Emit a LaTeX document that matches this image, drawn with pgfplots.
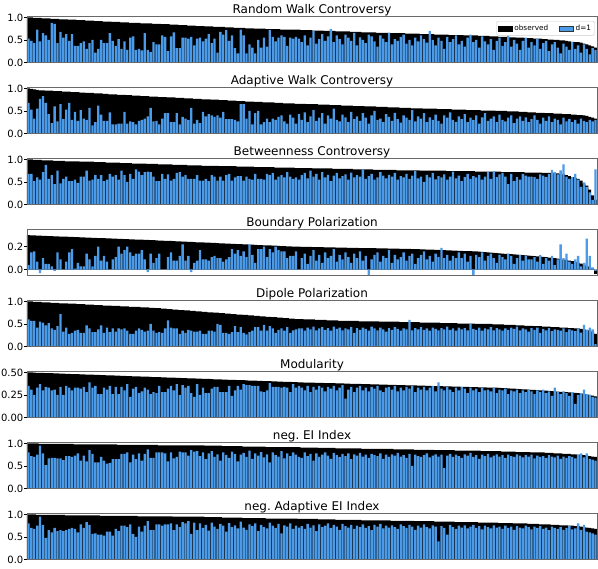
\documentclass[border=0pt]{standalone}
\usepackage{fontspec}
\setmainfont{DejaVu Sans}
\usepackage{pgfplots}
\usepackage{pgfplotstable}
\pgfplotsset{compat=1.18}
\definecolor{dblue}{RGB}{75,155,232}
\definecolor{framegray}{RGB}{105,105,105}

% observed (sorted) and d=1 values, one table per series
\pgfplotstableread[row sep=\\]{y\\
1.00\\ 1.00\\ 0.99\\ 0.99\\ 0.99\\ 0.98\\ 0.98\\ 0.98\\ 0.97\\ 0.97\\
0.97\\ 0.96\\ 0.96\\ 0.96\\ 0.95\\ 0.95\\ 0.95\\ 0.94\\ 0.94\\ 0.94\\
0.93\\ 0.93\\ 0.93\\ 0.92\\ 0.92\\ 0.92\\ 0.91\\ 0.91\\ 0.91\\ 0.90\\
0.90\\ 0.90\\ 0.89\\ 0.89\\ 0.89\\ 0.88\\ 0.88\\ 0.88\\ 0.88\\ 0.87\\
0.87\\ 0.87\\ 0.87\\ 0.86\\ 0.86\\ 0.86\\ 0.85\\ 0.85\\ 0.85\\ 0.84\\
0.84\\ 0.84\\ 0.83\\ 0.83\\ 0.83\\ 0.82\\ 0.82\\ 0.82\\ 0.81\\ 0.81\\
0.81\\ 0.80\\ 0.80\\ 0.80\\ 0.79\\ 0.79\\ 0.79\\ 0.79\\ 0.78\\ 0.78\\
0.78\\ 0.77\\ 0.77\\ 0.77\\ 0.77\\ 0.76\\ 0.76\\ 0.76\\ 0.75\\ 0.75\\
0.75\\ 0.75\\ 0.74\\ 0.74\\ 0.74\\ 0.74\\ 0.74\\ 0.73\\ 0.73\\ 0.73\\
0.73\\ 0.73\\ 0.73\\ 0.73\\ 0.72\\ 0.72\\ 0.72\\ 0.72\\ 0.71\\ 0.71\\
0.71\\ 0.71\\ 0.70\\ 0.70\\ 0.70\\ 0.70\\ 0.69\\ 0.69\\ 0.69\\ 0.69\\
0.69\\ 0.68\\ 0.68\\ 0.68\\ 0.68\\ 0.67\\ 0.67\\ 0.67\\ 0.67\\ 0.67\\
0.66\\ 0.66\\ 0.66\\ 0.66\\ 0.66\\ 0.65\\ 0.65\\ 0.65\\ 0.65\\ 0.65\\
0.64\\ 0.64\\ 0.64\\ 0.64\\ 0.64\\ 0.63\\ 0.63\\ 0.63\\ 0.63\\ 0.63\\
0.62\\ 0.62\\ 0.62\\ 0.62\\ 0.62\\ 0.61\\ 0.61\\ 0.61\\ 0.61\\ 0.61\\
0.60\\ 0.60\\ 0.60\\ 0.60\\ 0.60\\ 0.59\\ 0.59\\ 0.59\\ 0.59\\ 0.58\\
0.58\\ 0.58\\ 0.57\\ 0.57\\ 0.57\\ 0.56\\ 0.56\\ 0.56\\ 0.55\\ 0.55\\
0.55\\ 0.54\\ 0.54\\ 0.54\\ 0.53\\ 0.53\\ 0.53\\ 0.52\\ 0.52\\ 0.51\\
0.51\\ 0.50\\ 0.50\\ 0.49\\ 0.49\\ 0.48\\ 0.47\\ 0.46\\ 0.45\\ 0.45\\
0.44\\ 0.42\\ 0.40\\ 0.38\\ 0.36\\ 0.33\\
}\oA
\pgfplotstableread[row sep=\\]{y\\
0.53\\ 0.48\\ 0.43\\ 0.73\\ 0.47\\ 0.65\\ 0.60\\ 0.50\\ 0.88\\ 0.86\\
0.43\\ 0.68\\ 0.55\\ 0.63\\ 0.48\\ 0.63\\ 0.37\\ 0.37\\ 0.43\\ 0.47\\
0.30\\ 0.43\\ 0.50\\ 0.22\\ 0.30\\ 0.50\\ 0.43\\ 0.43\\ 0.65\\ 0.48\\
0.37\\ 0.52\\ 0.30\\ 0.47\\ 0.28\\ 0.55\\ 0.58\\ 0.28\\ 0.30\\ 0.27\\
0.65\\ 0.28\\ 0.23\\ 0.45\\ 0.40\\ 0.40\\ 0.60\\ 0.57\\ 0.25\\ 0.58\\
0.67\\ 0.32\\ 0.32\\ 0.55\\ 0.55\\ 0.53\\ 0.57\\ 0.38\\ 0.53\\ 0.55\\
0.47\\ 0.53\\ 0.63\\ 0.43\\ 0.53\\ 0.22\\ 0.68\\ 0.62\\ 0.72\\ 0.48\\
0.60\\ 0.32\\ 0.20\\ 0.73\\ 0.60\\ 0.20\\ 0.40\\ 0.33\\ 0.20\\ 0.50\\
0.33\\ 0.55\\ 0.35\\ 0.72\\ 0.57\\ 0.47\\ 0.55\\ 0.60\\ 0.57\\ 0.37\\
0.55\\ 0.53\\ 0.57\\ 0.53\\
0.45\\ 0.60\\ 0.38\\ 0.55\\ 0.70\\ 0.42\\ 0.52\\ 0.63\\ 0.48\\ 0.58\\
0.74\\ 0.45\\ 0.60\\ 0.52\\ 0.40\\ 0.62\\ 0.55\\ 0.48\\ 0.66\\ 0.38\\
0.56\\ 0.50\\ 0.43\\ 0.62\\ 0.58\\ 0.47\\ 0.35\\ 0.60\\ 0.53\\ 0.45\\
0.66\\ 0.40\\ 0.52\\ 0.48\\ 0.57\\ 0.62\\ 0.42\\ 0.50\\ 0.38\\ 0.55\\
0.47\\ 0.60\\ 0.52\\ 0.44\\ 0.70\\ 0.50\\ 0.38\\ 0.55\\ 0.48\\ 0.30\\
0.57\\ 0.45\\ 0.52\\ 0.60\\ 0.40\\ 0.48\\ 0.35\\ 0.55\\ 0.62\\ 0.45\\
0.50\\ 0.33\\ 0.58\\ 0.47\\ 0.40\\ 0.52\\ 0.28\\ 0.48\\ 0.55\\ 0.37\\
0.45\\ 0.60\\ 0.35\\ 0.50\\ 0.42\\ 0.28\\ 0.48\\ 0.55\\ 0.33\\ 0.45\\
0.38\\ 0.52\\ 0.30\\ 0.43\\ 0.48\\ 0.25\\ 0.40\\ 0.45\\ 0.33\\ 0.20\\
0.42\\ 0.35\\ 0.28\\ 0.45\\ 0.30\\ 0.38\\ 0.22\\ 0.40\\ 0.30\\ 0.18\\
0.32\\ 0.28\\
}\dA

\pgfplotstableread[row sep=\\]{y\\
1.00\\ 0.99\\ 0.98\\ 0.97\\ 0.96\\ 0.96\\ 0.95\\ 0.95\\ 0.95\\ 0.94\\
0.94\\ 0.94\\ 0.93\\ 0.93\\ 0.93\\ 0.92\\ 0.92\\ 0.92\\ 0.91\\ 0.91\\
0.90\\ 0.90\\ 0.90\\ 0.89\\ 0.89\\ 0.89\\ 0.88\\ 0.88\\ 0.87\\ 0.87\\
0.87\\ 0.86\\ 0.86\\ 0.86\\ 0.85\\ 0.85\\ 0.84\\ 0.84\\ 0.84\\ 0.83\\
0.83\\ 0.83\\ 0.82\\ 0.82\\ 0.82\\ 0.81\\ 0.81\\ 0.81\\ 0.80\\ 0.80\\
0.80\\ 0.79\\ 0.79\\ 0.79\\ 0.78\\ 0.78\\ 0.78\\ 0.77\\ 0.77\\ 0.77\\
0.76\\ 0.76\\ 0.76\\ 0.75\\ 0.75\\ 0.75\\ 0.74\\ 0.74\\ 0.74\\ 0.73\\
0.73\\ 0.73\\ 0.72\\ 0.72\\ 0.72\\ 0.71\\ 0.71\\ 0.71\\ 0.70\\ 0.70\\
0.70\\ 0.69\\ 0.69\\ 0.69\\ 0.69\\ 0.68\\ 0.68\\ 0.68\\ 0.67\\ 0.67\\
0.67\\ 0.67\\ 0.66\\ 0.66\\ 0.66\\ 0.66\\ 0.65\\ 0.65\\ 0.65\\ 0.65\\
0.64\\ 0.64\\ 0.64\\ 0.64\\ 0.63\\ 0.63\\ 0.63\\ 0.63\\ 0.62\\ 0.62\\
0.62\\ 0.62\\ 0.61\\ 0.61\\ 0.61\\ 0.61\\ 0.60\\ 0.60\\ 0.60\\ 0.60\\
0.59\\ 0.59\\ 0.59\\ 0.59\\ 0.58\\ 0.58\\ 0.58\\ 0.58\\ 0.57\\ 0.57\\
0.57\\ 0.57\\ 0.56\\ 0.56\\ 0.56\\ 0.56\\ 0.55\\ 0.55\\ 0.55\\ 0.55\\
0.55\\ 0.54\\ 0.54\\ 0.54\\ 0.54\\ 0.54\\ 0.53\\ 0.53\\ 0.53\\ 0.53\\
0.53\\ 0.52\\ 0.52\\ 0.52\\ 0.52\\ 0.52\\ 0.51\\ 0.51\\ 0.51\\ 0.51\\
0.51\\ 0.50\\ 0.50\\ 0.50\\ 0.50\\ 0.49\\ 0.49\\ 0.49\\ 0.49\\ 0.48\\
0.48\\ 0.48\\ 0.47\\ 0.47\\ 0.47\\ 0.46\\ 0.46\\ 0.46\\ 0.45\\ 0.45\\
0.45\\ 0.44\\ 0.44\\ 0.44\\ 0.43\\ 0.43\\ 0.43\\ 0.42\\ 0.42\\ 0.41\\
0.41\\ 0.40\\ 0.39\\ 0.37\\ 0.35\\ 0.33\\
}\oB
\pgfplotstableread[row sep=\\]{y\\
0.68\\ 0.53\\ 0.33\\ 0.55\\ 0.77\\ 0.83\\ 0.68\\ 0.43\\ 0.23\\ 0.60\\
0.27\\ 0.65\\ 0.32\\ 0.53\\ 0.68\\ 0.30\\ 0.48\\ 0.28\\ 0.52\\ 0.33\\
0.30\\ 0.57\\ 0.18\\ 0.25\\ 0.62\\ 0.42\\ 0.28\\ 0.28\\ 0.47\\ 0.20\\
0.20\\ 0.22\\ 0.22\\ 0.48\\ 0.22\\ 0.27\\ 0.25\\ 0.20\\ 0.28\\ 0.30\\
0.33\\ 0.38\\ 0.57\\ 0.27\\ 0.28\\ 0.20\\ 0.33\\ 0.45\\ 0.45\\ 0.25\\
0.25\\ 0.45\\ 0.20\\ 0.37\\ 0.33\\ 0.30\\ 0.57\\ 0.22\\ 0.30\\ 0.23\\
0.48\\ 0.38\\ 0.43\\ 0.40\\ 0.37\\ 0.40\\ 0.35\\ 0.48\\ 0.32\\ 0.32\\
0.32\\ 0.30\\ 0.27\\ 0.65\\ 0.65\\ 0.33\\ 0.50\\ 0.20\\ 0.45\\ 0.50\\
0.20\\ 0.25\\ 0.33\\ 0.25\\ 0.33\\ 0.30\\ 0.37\\ 0.40\\ 0.27\\ 0.22\\
0.42\\ 0.35\\ 0.22\\ 0.43\\
0.30\\ 0.47\\ 0.25\\ 0.38\\ 0.52\\ 0.28\\ 0.35\\ 0.45\\ 0.22\\ 0.40\\
0.33\\ 0.55\\ 0.30\\ 0.27\\ 0.42\\ 0.36\\ 0.25\\ 0.48\\ 0.32\\ 0.38\\
0.28\\ 0.45\\ 0.35\\ 0.22\\ 0.40\\ 0.50\\ 0.30\\ 0.33\\ 0.25\\ 0.43\\
0.37\\ 0.28\\ 0.46\\ 0.32\\ 0.24\\ 0.40\\ 0.35\\ 0.30\\ 0.52\\ 0.27\\
0.38\\ 0.33\\ 0.45\\ 0.25\\ 0.36\\ 0.30\\ 0.42\\ 0.28\\ 0.22\\ 0.40\\
0.35\\ 0.47\\ 0.30\\ 0.26\\ 0.38\\ 0.32\\ 0.43\\ 0.25\\ 0.35\\ 0.30\\
0.40\\ 0.22\\ 0.36\\ 0.45\\ 0.28\\ 0.33\\ 0.38\\ 0.25\\ 0.42\\ 0.30\\
0.27\\ 0.35\\ 0.40\\ 0.23\\ 0.33\\ 0.38\\ 0.28\\ 0.36\\ 0.25\\ 0.32\\
0.40\\ 0.30\\ 0.22\\ 0.35\\ 0.28\\ 0.38\\ 0.25\\ 0.33\\ 0.30\\ 0.20\\
0.35\\ 0.27\\ 0.32\\ 0.25\\ 0.30\\ 0.22\\ 0.33\\ 0.28\\ 0.25\\ 0.30\\
0.27\\ 0.30\\
}\dB

\pgfplotstableread[row sep=\\]{y\\
1.00\\ 1.00\\ 0.99\\ 0.99\\ 0.99\\ 0.98\\ 0.98\\ 0.98\\ 0.98\\ 0.97\\
0.97\\ 0.97\\ 0.97\\ 0.96\\ 0.96\\ 0.96\\ 0.96\\ 0.96\\ 0.95\\ 0.95\\
0.95\\ 0.95\\ 0.95\\ 0.94\\ 0.94\\ 0.94\\ 0.94\\ 0.93\\ 0.93\\ 0.93\\
0.93\\ 0.93\\ 0.92\\ 0.92\\ 0.92\\ 0.92\\ 0.91\\ 0.91\\ 0.91\\ 0.91\\
0.91\\ 0.90\\ 0.90\\ 0.90\\ 0.90\\ 0.89\\ 0.89\\ 0.89\\ 0.89\\ 0.89\\
0.88\\ 0.88\\ 0.88\\ 0.88\\ 0.88\\ 0.87\\ 0.87\\ 0.87\\ 0.87\\ 0.87\\
0.86\\ 0.86\\ 0.86\\ 0.86\\ 0.86\\ 0.86\\ 0.85\\ 0.85\\ 0.85\\ 0.85\\
0.85\\ 0.85\\ 0.84\\ 0.84\\ 0.84\\ 0.84\\ 0.84\\ 0.84\\ 0.83\\ 0.83\\
0.83\\ 0.83\\ 0.83\\ 0.83\\ 0.83\\ 0.82\\ 0.82\\ 0.82\\ 0.82\\ 0.82\\
0.82\\ 0.82\\ 0.81\\ 0.81\\ 0.81\\ 0.81\\ 0.81\\ 0.81\\ 0.80\\ 0.80\\
0.80\\ 0.80\\ 0.80\\ 0.80\\ 0.80\\ 0.79\\ 0.79\\ 0.79\\ 0.79\\ 0.79\\
0.79\\ 0.79\\ 0.78\\ 0.78\\ 0.78\\ 0.78\\ 0.78\\ 0.78\\ 0.78\\ 0.77\\
0.77\\ 0.77\\ 0.77\\ 0.77\\ 0.77\\ 0.77\\ 0.77\\ 0.76\\ 0.76\\ 0.76\\
0.76\\ 0.76\\ 0.76\\ 0.76\\ 0.76\\ 0.75\\ 0.75\\ 0.75\\ 0.75\\ 0.75\\
0.75\\ 0.75\\ 0.75\\ 0.75\\ 0.74\\ 0.74\\ 0.74\\ 0.74\\ 0.74\\ 0.74\\
0.74\\ 0.74\\ 0.74\\ 0.74\\ 0.73\\ 0.73\\ 0.73\\ 0.73\\ 0.73\\ 0.73\\
0.73\\ 0.73\\ 0.73\\ 0.72\\ 0.72\\ 0.72\\ 0.72\\ 0.72\\ 0.72\\ 0.72\\
0.72\\ 0.71\\ 0.71\\ 0.71\\ 0.71\\ 0.71\\ 0.71\\ 0.70\\ 0.70\\ 0.70\\
0.70\\ 0.69\\ 0.69\\ 0.68\\ 0.67\\ 0.65\\ 0.63\\ 0.61\\ 0.59\\ 0.57\\
0.53\\ 0.47\\ 0.42\\ 0.33\\ 0.20\\ 0.10\\
}\oC
\pgfplotstableread[row sep=\\]{y\\
0.68\\ 0.68\\ 0.52\\ 0.60\\ 0.55\\ 0.72\\ 0.88\\ 0.57\\ 0.65\\ 0.45\\
0.75\\ 0.47\\ 0.57\\ 0.62\\ 0.52\\ 0.52\\ 0.55\\ 0.48\\ 0.62\\ 0.62\\
0.75\\ 0.53\\ 0.55\\ 0.65\\ 0.57\\ 0.65\\ 0.52\\ 0.55\\ 0.68\\ 0.62\\
0.65\\ 0.55\\ 0.75\\ 0.65\\ 0.50\\ 0.68\\ 0.57\\ 0.78\\ 0.73\\ 0.65\\
0.72\\ 0.73\\ 0.72\\ 0.62\\ 0.52\\ 0.52\\ 0.68\\ 0.57\\ 0.67\\ 0.53\\
0.57\\ 0.70\\ 0.72\\ 0.62\\ 0.65\\ 0.57\\ 0.57\\ 0.57\\ 0.65\\ 0.53\\
0.53\\ 0.57\\ 0.52\\ 0.65\\ 0.62\\ 0.53\\ 0.62\\ 0.53\\ 0.65\\ 0.68\\
0.53\\ 0.60\\ 0.63\\ 0.63\\ 0.53\\ 0.62\\ 0.57\\ 0.55\\ 0.68\\ 0.57\\
0.57\\ 0.55\\ 0.68\\ 0.65\\ 0.70\\ 0.55\\ 0.62\\ 0.65\\ 0.60\\ 0.72\\
0.62\\ 0.57\\ 0.60\\ 0.55\\
0.65\\ 0.70\\ 0.58\\ 0.75\\ 0.62\\ 0.68\\ 0.55\\ 0.72\\ 0.60\\ 0.66\\
0.52\\ 0.64\\ 0.70\\ 0.58\\ 0.63\\ 0.67\\ 0.55\\ 0.71\\ 0.60\\ 0.65\\
0.62\\ 0.78\\ 0.57\\ 0.63\\ 0.68\\ 0.55\\ 0.60\\ 0.72\\ 0.64\\ 0.58\\
0.66\\ 0.62\\ 0.70\\ 0.55\\ 0.63\\ 0.60\\ 0.68\\ 0.57\\ 0.64\\ 0.74\\
0.58\\ 0.62\\ 0.50\\ 0.66\\ 0.60\\ 0.70\\ 0.56\\ 0.63\\ 0.60\\ 0.67\\
0.55\\ 0.62\\ 0.73\\ 0.58\\ 0.64\\ 0.52\\ 0.61\\ 0.68\\ 0.57\\ 0.63\\
0.60\\ 0.66\\ 0.55\\ 0.62\\
0.72\\ 0.57\\ 0.74\\ 0.61\\ 0.67\\ 0.70\\ 0.62\\ 0.45\\ 0.68\\ 0.52\\
0.61\\ 0.55\\ 0.68\\ 0.64\\ 0.62\\ 0.62\\ 0.61\\ 0.57\\ 0.67\\ 0.64\\
0.61\\ 0.68\\ 0.77\\ 0.72\\ 0.67\\ 0.76\\ 0.89\\ 0.62\\ 0.57\\ 0.61\\
0.68\\ 0.55\\ 0.39\\ 0.49\\ 0.39\\ 0.27\\ 0.10\\ 0.78\\
}\dC

\pgfplotstableread[row sep=\\]{y\\
0.300\\ 0.299\\ 0.298\\ 0.297\\ 0.296\\ 0.295\\ 0.294\\ 0.293\\ 0.292\\ 0.291\\
0.290\\ 0.289\\ 0.288\\ 0.287\\ 0.286\\ 0.285\\ 0.284\\ 0.283\\ 0.282\\ 0.281\\
0.280\\ 0.279\\ 0.278\\ 0.277\\ 0.276\\ 0.275\\ 0.274\\ 0.273\\ 0.272\\ 0.271\\
0.270\\ 0.269\\ 0.268\\ 0.267\\ 0.266\\ 0.265\\ 0.264\\ 0.263\\ 0.262\\ 0.261\\
0.260\\ 0.259\\ 0.258\\ 0.257\\ 0.255\\ 0.254\\ 0.253\\ 0.252\\ 0.251\\ 0.250\\
0.249\\ 0.247\\ 0.246\\ 0.245\\ 0.244\\ 0.243\\ 0.242\\ 0.241\\ 0.239\\ 0.238\\
0.237\\ 0.236\\ 0.235\\ 0.234\\ 0.233\\ 0.231\\ 0.230\\ 0.229\\ 0.228\\ 0.227\\
0.226\\ 0.225\\ 0.223\\ 0.222\\ 0.221\\ 0.220\\ 0.219\\ 0.218\\ 0.217\\ 0.215\\
0.214\\ 0.213\\ 0.212\\ 0.211\\ 0.210\\ 0.209\\ 0.207\\ 0.206\\ 0.205\\ 0.204\\
0.203\\ 0.202\\ 0.201\\ 0.200\\ 0.199\\ 0.199\\ 0.198\\ 0.198\\ 0.197\\ 0.197\\
0.196\\ 0.196\\ 0.195\\ 0.195\\ 0.194\\ 0.194\\ 0.193\\ 0.193\\ 0.192\\ 0.192\\
0.191\\ 0.191\\ 0.190\\ 0.190\\ 0.189\\ 0.189\\ 0.188\\ 0.188\\ 0.187\\ 0.187\\
0.186\\ 0.186\\ 0.185\\ 0.185\\ 0.184\\ 0.184\\ 0.183\\ 0.183\\ 0.182\\ 0.182\\
0.181\\ 0.181\\ 0.180\\ 0.180\\ 0.179\\ 0.178\\ 0.177\\ 0.176\\ 0.175\\ 0.174\\
0.173\\ 0.172\\ 0.171\\ 0.170\\ 0.169\\ 0.168\\ 0.167\\ 0.166\\ 0.165\\ 0.164\\
0.163\\ 0.162\\ 0.161\\ 0.160\\ 0.159\\ 0.157\\ 0.155\\ 0.153\\ 0.151\\ 0.149\\
0.147\\ 0.145\\ 0.143\\ 0.141\\ 0.139\\ 0.137\\ 0.135\\ 0.133\\ 0.131\\ 0.129\\
0.127\\ 0.125\\ 0.123\\ 0.121\\ 0.119\\ 0.117\\ 0.115\\ 0.112\\ 0.109\\ 0.106\\
0.103\\ 0.100\\ 0.097\\ 0.093\\ 0.089\\ 0.085\\ 0.080\\ 0.074\\ 0.068\\ 0.061\\
0.053\\ 0.044\\ 0.034\\ 0.024\\ 0.010\\ -0.035\\
}\oD
\pgfplotstableread[row sep=\\]{y\\
0.04\\ 0.15\\ 0.16\\ 0.07\\ -0.03\\ 0.10\\ 0.05\\ 0.05\\ 0.03\\ -0.01\\
0.15\\ 0.09\\ 0.00\\ 0.07\\ 0.15\\ 0.18\\ 0.01\\ 0.06\\ 0.03\\ 0.03\\
0.14\\ 0.09\\ 0.03\\ 0.12\\ 0.20\\ 0.08\\ 0.12\\ 0.07\\ 0.00\\ 0.09\\
0.11\\ 0.20\\ 0.14\\ 0.17\\ 0.20\\ 0.15\\ 0.12\\ 0.14\\ 0.14\\ 0.17\\
0.09\\ -0.02\\ 0.14\\ 0.06\\ 0.10\\ 0.14\\ 0.00\\ 0.00\\ 0.11\\ 0.15\\
0.08\\ 0.08\\ 0.12\\ 0.22\\ 0.08\\ 0.12\\ -0.02\\ 0.06\\ 0.08\\ 0.17\\
0.09\\ 0.09\\ 0.08\\ 0.11\\ 0.12\\ 0.10\\ 0.10\\ 0.07\\ 0.09\\ 0.11\\
0.18\\ 0.14\\ 0.17\\ 0.12\\ 0.16\\ 0.11\\ 0.22\\ 0.13\\ 0.06\\ 0.18\\
0.18\\ 0.20\\ 0.11\\ 0.18\\ 0.15\\ 0.20\\ 0.17\\ 0.16\\ 0.16\\ 0.10\\
0.12\\ 0.12\\ 0.16\\ 0.00\\
0.10\\ 0.14\\ 0.05\\ 0.12\\ 0.17\\ 0.08\\ 0.13\\ 0.06\\ 0.15\\ 0.10\\
0.12\\ 0.18\\ 0.07\\ 0.13\\ 0.09\\ 0.15\\ 0.11\\ 0.06\\ 0.14\\ 0.10\\
0.16\\ 0.08\\ 0.12\\ -0.05\\ 0.09\\ 0.13\\ 0.15\\ 0.07\\ 0.12\\ 0.10\\
0.17\\ 0.06\\ 0.13\\ 0.09\\ 0.11\\ 0.15\\ 0.08\\ 0.12\\ 0.14\\ 0.05\\
0.10\\ 0.13\\ 0.16\\ 0.09\\ 0.12\\ 0.07\\ 0.14\\ 0.11\\ 0.19\\ 0.10\\
0.13\\ 0.08\\ 0.12\\ 0.10\\ 0.15\\ 0.10\\ 0.14\\ 0.07\\ 0.12\\ -0.05\\
0.13\\ 0.11\\ 0.15\\ 0.08\\ 0.12\\ 0.14\\ 0.10\\ 0.06\\ 0.13\\ 0.11\\
0.09\\ 0.14\\ 0.12\\ 0.05\\ 0.10\\ 0.13\\ 0.08\\ 0.12\\ 0.09\\ 0.09\\
0.11\\ 0.07\\ 0.13\\ 0.05\\ 0.10\\ 0.08\\ 0.12\\ 0.04\\ 0.09\\ 0.22\\
0.10\\ 0.14\\ 0.07\\ 0.05\\ 0.09\\ 0.12\\ 0.03\\ 0.06\\ 0.27\\ 0.12\\
0.02\\ -0.01\\
}\dD

\pgfplotstableread[row sep=\\]{y\\
1.00\\ 1.00\\ 0.99\\ 0.99\\ 0.99\\ 0.98\\ 0.98\\ 0.98\\ 0.97\\ 0.97\\
0.97\\ 0.96\\ 0.96\\ 0.96\\ 0.95\\ 0.95\\ 0.95\\ 0.94\\ 0.94\\ 0.94\\
0.93\\ 0.93\\ 0.93\\ 0.92\\ 0.92\\ 0.92\\ 0.91\\ 0.91\\ 0.91\\ 0.90\\
0.90\\ 0.90\\ 0.89\\ 0.89\\ 0.89\\ 0.88\\ 0.88\\ 0.88\\ 0.88\\ 0.87\\
0.87\\ 0.87\\ 0.86\\ 0.86\\ 0.85\\ 0.85\\ 0.84\\ 0.84\\ 0.83\\ 0.83\\
0.82\\ 0.82\\ 0.81\\ 0.81\\ 0.80\\ 0.80\\ 0.79\\ 0.79\\ 0.78\\ 0.78\\
0.77\\ 0.77\\ 0.76\\ 0.76\\ 0.75\\ 0.75\\ 0.74\\ 0.74\\ 0.73\\ 0.73\\
0.72\\ 0.72\\ 0.71\\ 0.71\\ 0.70\\ 0.70\\ 0.69\\ 0.69\\ 0.68\\ 0.68\\
0.67\\ 0.67\\ 0.66\\ 0.66\\ 0.65\\ 0.65\\ 0.64\\ 0.64\\ 0.63\\ 0.63\\
0.62\\ 0.62\\ 0.61\\ 0.61\\ 0.61\\ 0.60\\ 0.60\\ 0.60\\ 0.60\\ 0.59\\
0.59\\ 0.59\\ 0.59\\ 0.58\\ 0.58\\ 0.58\\ 0.58\\ 0.57\\ 0.57\\ 0.57\\
0.57\\ 0.57\\ 0.57\\ 0.57\\ 0.56\\ 0.56\\ 0.56\\ 0.56\\ 0.56\\ 0.56\\
0.56\\ 0.55\\ 0.55\\ 0.55\\ 0.55\\ 0.55\\ 0.55\\ 0.55\\ 0.54\\ 0.54\\
0.54\\ 0.54\\ 0.54\\ 0.54\\ 0.54\\ 0.53\\ 0.53\\ 0.53\\ 0.53\\ 0.53\\
0.53\\ 0.53\\ 0.52\\ 0.52\\ 0.52\\ 0.52\\ 0.52\\ 0.52\\ 0.51\\ 0.51\\
0.51\\ 0.51\\ 0.51\\ 0.51\\ 0.50\\ 0.50\\ 0.50\\ 0.50\\ 0.50\\ 0.50\\
0.49\\ 0.49\\ 0.49\\ 0.49\\ 0.48\\ 0.48\\ 0.48\\ 0.48\\ 0.47\\ 0.47\\
0.47\\ 0.46\\ 0.46\\ 0.46\\ 0.45\\ 0.45\\ 0.45\\ 0.44\\ 0.44\\ 0.44\\
0.43\\ 0.43\\ 0.43\\ 0.42\\ 0.42\\ 0.42\\ 0.41\\ 0.41\\ 0.40\\ 0.40\\
0.39\\ 0.38\\ 0.37\\ 0.35\\ 0.33\\ 0.28\\
}\oE
\pgfplotstableread[row sep=\\]{y\\
0.60\\ 0.57\\ 0.57\\ 0.42\\ 0.55\\ 0.53\\ 0.47\\ 0.52\\ 0.40\\ 0.37\\
0.45\\ 0.72\\ 0.33\\ 0.42\\ 0.28\\ 0.30\\ 0.35\\ 0.37\\ 0.30\\ 0.30\\
0.47\\ 0.40\\ 0.32\\ 0.32\\ 0.38\\ 0.47\\ 0.30\\ 0.42\\ 0.32\\ 0.40\\
0.33\\ 0.40\\ 0.38\\ 0.40\\ 0.35\\ 0.28\\ 0.28\\ 0.35\\ 0.40\\ 0.37\\
0.33\\ 0.35\\ 0.50\\ 0.35\\ 0.30\\ 0.32\\ 0.30\\ 0.40\\ 0.58\\ 0.42\\
0.40\\ 0.40\\ 0.28\\ 0.35\\ 0.30\\ 0.37\\ 0.35\\ 0.33\\ 0.33\\ 0.35\\
0.28\\ 0.28\\ 0.35\\ 0.35\\ 0.33\\ 0.50\\ 0.48\\ 0.30\\ 0.30\\ 0.28\\
0.32\\ 0.45\\ 0.32\\ 0.43\\ 0.30\\ 0.27\\ 0.32\\ 0.35\\ 0.43\\ 0.43\\
0.35\\ 0.48\\ 0.35\\ 0.45\\ 0.40\\ 0.30\\ 0.37\\ 0.40\\ 0.35\\ 0.43\\
0.30\\ 0.36\\ 0.38\\ 0.40\\
0.40\\ 0.35\\ 0.42\\ 0.38\\ 0.44\\ 0.36\\ 0.40\\ 0.43\\ 0.37\\ 0.41\\
0.35\\ 0.44\\ 0.39\\ 0.42\\ 0.36\\ 0.40\\ 0.38\\ 0.43\\ 0.30\\ 0.41\\
0.37\\ 0.42\\ 0.39\\ 0.35\\ 0.44\\ 0.40\\ 0.36\\ 0.42\\ 0.38\\ 0.33\\
0.41\\ 0.37\\ 0.43\\ 0.39\\ 0.35\\ 0.40\\ 0.38\\ 0.59\\ 0.36\\ 0.41\\
0.38\\ 0.43\\ 0.37\\ 0.40\\ 0.35\\ 0.42\\ 0.39\\ 0.36\\ 0.41\\ 0.38\\
0.44\\ 0.37\\ 0.40\\ 0.35\\ 0.42\\ 0.38\\ 0.41\\ 0.36\\ 0.50\\ 0.39\\
0.37\\ 0.42\\ 0.35\\ 0.40\\ 0.38\\ 0.43\\ 0.36\\ 0.41\\ 0.38\\ 0.35\\
0.40\\ 0.37\\ 0.42\\ 0.39\\ 0.44\\ 0.36\\ 0.40\\ 0.38\\ 0.33\\ 0.41\\
0.37\\ 0.42\\ 0.30\\ 0.39\\ 0.36\\ 0.41\\ 0.34\\ 0.38\\ 0.37\\ 0.35\\
0.40\\ 0.32\\ 0.38\\ 0.36\\ 0.34\\ 0.40\\ 0.31\\ 0.48\\ 0.37\\ 0.42\\
0.38\\ 0.05\\
}\dE

\pgfplotstableread[row sep=\\]{y\\
0.500\\ 0.499\\ 0.498\\ 0.496\\ 0.495\\ 0.494\\ 0.493\\ 0.492\\ 0.491\\ 0.489\\
0.488\\ 0.487\\ 0.486\\ 0.485\\ 0.483\\ 0.482\\ 0.481\\ 0.480\\ 0.479\\ 0.478\\
0.476\\ 0.475\\ 0.474\\ 0.473\\ 0.472\\ 0.470\\ 0.469\\ 0.468\\ 0.467\\ 0.466\\
0.465\\ 0.463\\ 0.462\\ 0.461\\ 0.460\\ 0.459\\ 0.457\\ 0.456\\ 0.455\\ 0.454\\
0.453\\ 0.452\\ 0.450\\ 0.449\\ 0.448\\ 0.447\\ 0.446\\ 0.444\\ 0.443\\ 0.442\\
0.441\\ 0.440\\ 0.439\\ 0.437\\ 0.436\\ 0.435\\ 0.434\\ 0.433\\ 0.431\\ 0.430\\
0.429\\ 0.428\\ 0.427\\ 0.426\\ 0.424\\ 0.423\\ 0.422\\ 0.421\\ 0.420\\ 0.418\\
0.417\\ 0.416\\ 0.415\\ 0.414\\ 0.413\\ 0.411\\ 0.410\\ 0.409\\ 0.408\\ 0.407\\
0.405\\ 0.404\\ 0.403\\ 0.402\\ 0.401\\ 0.400\\ 0.398\\ 0.397\\ 0.396\\ 0.395\\
0.394\\ 0.392\\ 0.391\\ 0.390\\ 0.389\\ 0.388\\ 0.388\\ 0.387\\ 0.386\\ 0.385\\
0.384\\ 0.383\\ 0.382\\ 0.381\\ 0.380\\ 0.380\\ 0.379\\ 0.378\\ 0.377\\ 0.376\\
0.375\\ 0.374\\ 0.373\\ 0.372\\ 0.372\\ 0.371\\ 0.370\\ 0.369\\ 0.368\\ 0.367\\
0.366\\ 0.365\\ 0.364\\ 0.364\\ 0.363\\ 0.362\\ 0.361\\ 0.360\\ 0.359\\ 0.358\\
0.357\\ 0.356\\ 0.356\\ 0.355\\ 0.354\\ 0.353\\ 0.352\\ 0.351\\ 0.350\\ 0.349\\
0.348\\ 0.348\\ 0.347\\ 0.346\\ 0.345\\ 0.344\\ 0.343\\ 0.342\\ 0.341\\ 0.340\\
0.340\\ 0.339\\ 0.338\\ 0.337\\ 0.336\\ 0.335\\ 0.334\\ 0.333\\ 0.332\\ 0.332\\
0.331\\ 0.330\\ 0.329\\ 0.327\\ 0.325\\ 0.323\\ 0.321\\ 0.319\\ 0.317\\ 0.315\\
0.313\\ 0.311\\ 0.309\\ 0.307\\ 0.305\\ 0.303\\ 0.301\\ 0.299\\ 0.297\\ 0.295\\
0.293\\ 0.290\\ 0.288\\ 0.285\\ 0.283\\ 0.280\\ 0.278\\ 0.275\\ 0.272\\ 0.269\\
0.265\\ 0.261\\ 0.256\\ 0.250\\ 0.243\\ 0.234\\
}\oF
\pgfplotstableread[row sep=\\]{y\\
0.35\\ 0.31\\ 0.25\\ 0.33\\ 0.37\\ 0.30\\ 0.34\\ 0.33\\ 0.30\\ 0.31\\
0.25\\ 0.34\\ 0.25\\ 0.35\\ 0.33\\ 0.30\\ 0.33\\ 0.33\\ 0.32\\ 0.34\\
0.28\\ 0.39\\ 0.33\\ 0.35\\ 0.26\\ 0.26\\ 0.33\\ 0.31\\ 0.35\\ 0.26\\
0.34\\ 0.26\\ 0.34\\ 0.30\\ 0.37\\ 0.23\\ 0.32\\ 0.34\\ 0.27\\ 0.29\\
0.33\\ 0.31\\ 0.26\\ 0.28\\ 0.27\\ 0.35\\ 0.28\\ 0.28\\ 0.32\\ 0.35\\
0.30\\ 0.37\\ 0.25\\ 0.36\\ 0.33\\ 0.35\\ 0.27\\ 0.23\\ 0.37\\ 0.25\\
0.33\\ 0.27\\ 0.27\\ 0.32\\ 0.34\\ 0.34\\ 0.28\\ 0.28\\ 0.28\\ 0.35\\
0.24\\ 0.30\\ 0.35\\ 0.31\\ 0.37\\ 0.36\\ 0.36\\ 0.35\\ 0.35\\ 0.35\\
0.29\\ 0.28\\ 0.30\\ 0.38\\ 0.34\\ 0.34\\ 0.34\\ 0.33\\ 0.34\\ 0.33\\
0.28\\ 0.37\\ 0.33\\ 0.35\\
0.33\\ 0.30\\ 0.35\\ 0.28\\ 0.34\\ 0.31\\ 0.35\\ 0.33\\ 0.29\\ 0.34\\
0.32\\ 0.35\\ 0.30\\ 0.33\\ 0.36\\ 0.21\\ 0.31\\ 0.34\\ 0.28\\ 0.33\\
0.35\\ 0.30\\ 0.33\\ 0.29\\ 0.34\\ 0.32\\ 0.35\\ 0.30\\ 0.28\\ 0.33\\
0.34\\ 0.31\\ 0.35\\ 0.29\\ 0.33\\ 0.30\\ 0.34\\ 0.32\\ 0.35\\ 0.28\\
0.33\\ 0.31\\ 0.34\\ 0.30\\ 0.33\\ 0.35\\ 0.29\\ 0.39\\ 0.32\\ 0.30\\
0.34\\ 0.31\\ 0.28\\ 0.33\\ 0.30\\ 0.34\\ 0.32\\ 0.27\\ 0.33\\ 0.30\\
0.32\\ 0.28\\ 0.33\\ 0.30\\ 0.31\\ 0.29\\ 0.33\\ 0.27\\ 0.31\\ 0.30\\
0.32\\ 0.26\\ 0.30\\ 0.29\\ 0.31\\ 0.27\\ 0.30\\ 0.28\\ 0.31\\ 0.29\\
0.26\\ 0.30\\ 0.28\\ 0.31\\ 0.27\\ 0.29\\ 0.24\\ 0.33\\ 0.28\\ 0.26\\
0.29\\ 0.27\\ 0.24\\ 0.28\\ 0.15\\ 0.25\\ 0.27\\ 0.31\\ 0.26\\ 0.25\\
0.23\\ 0.22\\
}\dF

\pgfplotstableread[row sep=\\]{y\\
1.00\\ 1.00\\ 1.00\\ 1.00\\ 0.99\\ 0.99\\ 0.99\\ 0.99\\ 0.99\\ 0.99\\
0.99\\ 0.99\\ 0.99\\ 0.99\\ 0.99\\ 0.99\\ 0.98\\ 0.98\\ 0.98\\ 0.98\\
0.98\\ 0.98\\ 0.98\\ 0.98\\ 0.98\\ 0.98\\ 0.98\\ 0.98\\ 0.98\\ 0.98\\
0.98\\ 0.97\\ 0.97\\ 0.97\\ 0.97\\ 0.97\\ 0.97\\ 0.97\\ 0.97\\ 0.97\\
0.97\\ 0.97\\ 0.97\\ 0.97\\ 0.97\\ 0.96\\ 0.96\\ 0.96\\ 0.96\\ 0.96\\
0.96\\ 0.96\\ 0.96\\ 0.96\\ 0.96\\ 0.96\\ 0.96\\ 0.96\\ 0.96\\ 0.96\\
0.96\\ 0.95\\ 0.95\\ 0.95\\ 0.95\\ 0.95\\ 0.95\\ 0.94\\ 0.94\\ 0.94\\
0.94\\ 0.94\\ 0.94\\ 0.94\\ 0.93\\ 0.93\\ 0.93\\ 0.93\\ 0.93\\ 0.93\\
0.93\\ 0.93\\ 0.92\\ 0.92\\ 0.92\\ 0.92\\ 0.92\\ 0.92\\ 0.92\\ 0.92\\
0.92\\ 0.92\\ 0.92\\ 0.92\\ 0.91\\ 0.91\\ 0.91\\ 0.91\\ 0.91\\ 0.91\\
0.90\\ 0.90\\ 0.90\\ 0.90\\ 0.90\\ 0.90\\ 0.89\\ 0.89\\ 0.89\\ 0.89\\
0.89\\ 0.89\\ 0.89\\ 0.89\\ 0.89\\ 0.88\\ 0.88\\ 0.88\\ 0.88\\ 0.88\\
0.88\\ 0.88\\ 0.88\\ 0.88\\ 0.88\\ 0.88\\ 0.87\\ 0.87\\ 0.87\\ 0.87\\
0.87\\ 0.87\\ 0.87\\ 0.86\\ 0.86\\ 0.86\\ 0.86\\ 0.86\\ 0.86\\ 0.86\\
0.85\\ 0.85\\ 0.85\\ 0.85\\ 0.85\\ 0.85\\ 0.85\\ 0.84\\ 0.84\\ 0.84\\
0.84\\ 0.84\\ 0.84\\ 0.84\\ 0.84\\ 0.84\\ 0.83\\ 0.83\\ 0.83\\ 0.83\\
0.83\\ 0.83\\ 0.83\\ 0.82\\ 0.82\\ 0.82\\ 0.82\\ 0.82\\ 0.81\\ 0.81\\
0.81\\ 0.81\\ 0.81\\ 0.80\\ 0.80\\ 0.80\\ 0.80\\ 0.80\\ 0.79\\ 0.79\\
0.79\\ 0.78\\ 0.78\\ 0.78\\ 0.77\\ 0.77\\ 0.77\\ 0.76\\ 0.76\\ 0.75\\
0.75\\ 0.74\\ 0.73\\ 0.72\\ 0.71\\ 0.70\\
}\oG
\pgfplotstableread[row sep=\\]{y\\
0.80\\ 0.72\\ 0.70\\ 0.75\\ 0.95\\ 0.78\\ 0.52\\ 0.67\\ 0.68\\ 0.68\\
0.67\\ 0.67\\ 0.63\\ 0.72\\ 0.72\\ 0.70\\ 0.73\\ 0.78\\ 0.62\\ 0.73\\
0.60\\ 0.85\\ 0.77\\ 0.58\\ 0.58\\ 0.70\\ 0.62\\ 0.55\\ 0.57\\ 0.65\\
0.65\\ 0.65\\ 0.77\\ 0.77\\ 0.80\\ 0.58\\ 0.75\\ 0.65\\ 0.78\\ 0.62\\
0.77\\ 0.87\\ 0.68\\ 0.68\\ 0.80\\ 0.80\\ 0.80\\ 0.78\\ 0.60\\ 0.80\\
0.67\\ 0.70\\ 0.82\\ 0.80\\ 0.80\\ 0.73\\ 0.85\\ 0.82\\ 0.83\\
0.72\\ 0.80\\ 0.65\\ 0.78\\ 0.83\\ 0.70\\ 0.76\\ 0.62\\ 0.80\\ 0.74\\
0.68\\ 0.82\\ 0.77\\ 0.60\\ 0.75\\ 0.79\\ 0.70\\ 0.84\\ 0.66\\ 0.78\\
0.73\\ 0.81\\ 0.69\\ 0.76\\ 0.58\\ 0.80\\ 0.74\\ 0.71\\ 0.83\\ 0.67\\
0.78\\ 0.72\\ 0.80\\ 0.75\\ 0.70\\
0.68\\ 0.80\\ 0.72\\ 0.77\\ 0.62\\ 0.78\\ 0.70\\ 0.75\\ 0.80\\ 0.73\\
0.66\\ 0.79\\ 0.74\\ 0.70\\ 0.77\\ 0.72\\ 0.78\\ 0.65\\ 0.76\\ 0.73\\
0.79\\ 0.71\\ 0.75\\ 0.68\\ 0.77\\ 0.74\\ 0.72\\ 0.78\\ 0.66\\ 0.75\\
0.70\\ 0.76\\ 0.73\\ 0.79\\ 0.71\\ 0.74\\ 0.68\\ 0.77\\ 0.50\\ 0.75\\
0.72\\ 0.70\\ 0.74\\ 0.78\\ 0.69\\ 0.73\\ 0.76\\ 0.71\\ 0.75\\ 0.45\\
0.73\\ 0.77\\ 0.70\\ 0.75\\ 0.72\\ 0.68\\ 0.76\\ 0.73\\ 0.79\\ 0.70\\
0.74\\ 0.66\\ 0.75\\ 0.72\\ 0.77\\ 0.69\\ 0.73\\ 0.76\\ 0.71\\ 0.74\\
0.68\\ 0.75\\ 0.72\\ 0.70\\ 0.76\\ 0.73\\ 0.69\\ 0.74\\ 0.71\\ 0.75\\
0.67\\ 0.73\\ 0.70\\ 0.72\\ 0.68\\ 0.74\\ 0.71\\ 0.69\\ 0.73\\ 0.66\\
0.71\\ 0.68\\ 0.72\\ 0.70\\ 0.67\\ 0.74\\ 0.78\\ 0.69\\ 0.78\\ 0.66\\
0.64\\ 0.62\\
}\dG

\pgfplotstableread[row sep=\\]{y\\
1.00\\ 1.00\\ 1.00\\ 0.99\\ 0.99\\ 0.99\\ 0.99\\ 0.99\\ 0.99\\ 0.99\\
0.99\\ 0.99\\ 0.99\\ 0.98\\ 0.98\\ 0.98\\ 0.98\\ 0.98\\ 0.98\\ 0.98\\
0.98\\ 0.98\\ 0.98\\ 0.98\\ 0.98\\ 0.97\\ 0.97\\ 0.97\\ 0.97\\ 0.97\\
0.97\\ 0.97\\ 0.97\\ 0.97\\ 0.97\\ 0.97\\ 0.97\\ 0.97\\ 0.96\\ 0.96\\
0.96\\ 0.96\\ 0.96\\ 0.96\\ 0.96\\ 0.96\\ 0.96\\ 0.96\\ 0.96\\ 0.96\\
0.95\\ 0.95\\ 0.95\\ 0.95\\ 0.95\\ 0.95\\ 0.95\\ 0.95\\ 0.95\\ 0.95\\
0.95\\ 0.94\\ 0.94\\ 0.94\\ 0.94\\ 0.94\\ 0.94\\ 0.93\\ 0.93\\ 0.93\\
0.93\\ 0.93\\ 0.93\\ 0.93\\ 0.92\\ 0.92\\ 0.92\\ 0.92\\ 0.92\\ 0.92\\
0.92\\ 0.92\\ 0.91\\ 0.91\\ 0.91\\ 0.91\\ 0.91\\ 0.91\\ 0.91\\ 0.91\\
0.91\\ 0.91\\ 0.91\\ 0.90\\ 0.90\\ 0.90\\ 0.90\\ 0.90\\ 0.90\\ 0.90\\
0.89\\ 0.89\\ 0.89\\ 0.89\\ 0.89\\ 0.89\\ 0.88\\ 0.88\\ 0.88\\ 0.88\\
0.88\\ 0.88\\ 0.88\\ 0.88\\ 0.88\\ 0.87\\ 0.87\\ 0.87\\ 0.87\\ 0.87\\
0.87\\ 0.87\\ 0.87\\ 0.87\\ 0.87\\ 0.86\\ 0.86\\ 0.86\\ 0.86\\ 0.86\\
0.86\\ 0.86\\ 0.86\\ 0.85\\ 0.85\\ 0.85\\ 0.85\\ 0.85\\ 0.85\\ 0.85\\
0.84\\ 0.84\\ 0.84\\ 0.84\\ 0.84\\ 0.84\\ 0.84\\ 0.83\\ 0.83\\ 0.83\\
0.83\\ 0.83\\ 0.83\\ 0.83\\ 0.83\\ 0.82\\ 0.82\\ 0.82\\ 0.82\\ 0.82\\
0.82\\ 0.82\\ 0.81\\ 0.81\\ 0.81\\ 0.81\\ 0.81\\ 0.80\\ 0.80\\ 0.80\\
0.80\\ 0.80\\ 0.79\\ 0.79\\ 0.79\\ 0.79\\ 0.78\\ 0.78\\ 0.78\\ 0.78\\
0.77\\ 0.77\\ 0.77\\ 0.76\\ 0.76\\ 0.76\\ 0.75\\ 0.75\\ 0.74\\ 0.74\\
0.73\\ 0.72\\ 0.71\\ 0.70\\ 0.69\\ 0.68\\
}\oH
\pgfplotstableread[row sep=\\]{y\\
0.80\\ 0.70\\ 0.68\\ 0.75\\ 0.95\\ 0.77\\ 0.48\\ 0.65\\ 0.60\\ 0.70\\
0.63\\ 0.65\\ 0.63\\ 0.65\\ 0.68\\ 0.70\\ 0.68\\ 0.60\\ 0.78\\ 0.70\\
0.83\\ 0.77\\ 0.57\\ 0.58\\ 0.55\\ 0.55\\ 0.53\\ 0.62\\ 0.62\\ 0.53\\
0.68\\ 0.63\\ 0.75\\ 0.75\\ 0.72\\ 0.78\\ 0.57\\ 0.50\\ 0.73\\ 0.62\\
0.75\\ 0.85\\ 0.65\\ 0.65\\ 0.78\\ 0.78\\ 0.75\\ 0.78\\ 0.78\\ 0.80\\
0.65\\ 0.78\\ 0.72\\ 0.83\\ 0.80\\ 0.85\\ 0.57\\ 0.82\\ 0.65\\
0.80\\ 0.70\\ 0.77\\ 0.64\\ 0.82\\ 0.73\\ 0.68\\ 0.79\\ 0.75\\ 0.62\\
0.81\\ 0.72\\ 0.76\\ 0.69\\ 0.84\\ 0.71\\ 0.66\\ 0.78\\ 0.74\\ 0.80\\
0.63\\ 0.77\\ 0.72\\ 0.69\\ 0.82\\ 0.75\\ 0.70\\ 0.79\\ 0.58\\ 0.76\\
0.73\\ 0.80\\ 0.68\\ 0.75\\ 0.71\\
0.74\\ 0.68\\ 0.79\\ 0.71\\ 0.76\\ 0.63\\ 0.78\\ 0.72\\ 0.75\\ 0.80\\
0.70\\ 0.77\\ 0.73\\ 0.66\\ 0.79\\ 0.74\\ 0.71\\ 0.77\\ 0.68\\ 0.75\\
0.72\\ 0.78\\ 0.70\\ 0.74\\ 0.65\\ 0.77\\ 0.73\\ 0.79\\ 0.69\\ 0.75\\
0.71\\ 0.76\\ 0.72\\ 0.68\\ 0.78\\ 0.74\\ 0.70\\ 0.77\\ 0.73\\ 0.66\\
0.75\\ 0.71\\ 0.78\\ 0.72\\ 0.69\\ 0.76\\ 0.73\\ 0.40\\ 0.74\\ 0.70\\
0.55\\ 0.77\\ 0.72\\ 0.68\\ 0.75\\ 0.71\\ 0.76\\ 0.69\\ 0.73\\ 0.77\\
0.70\\ 0.74\\ 0.67\\ 0.75\\ 0.72\\ 0.69\\ 0.76\\ 0.71\\ 0.73\\ 0.68\\
0.75\\ 0.70\\ 0.73\\ 0.66\\ 0.74\\ 0.71\\ 0.69\\ 0.75\\ 0.72\\ 0.67\\
0.73\\ 0.70\\ 0.74\\ 0.68\\ 0.71\\ 0.65\\ 0.73\\ 0.70\\ 0.68\\ 0.72\\
0.66\\ 0.70\\ 0.74\\ 0.67\\ 0.69\\ 0.80\\ 0.66\\ 0.77\\ 0.62\\ 0.60\\
0.58\\ 0.55\\
}\dH

\pgfplotsset{
  panel/.style={
    scale only axis, width=570pt, height=46pt,
    anchor=south west,
    xmin=-0.5, xmax=195.5, xtick=\empty,
    ytick pos=left, tick align=outside, major tick length=2.5pt,
    axis line style={framegray, line width=0.7pt},
    ytick style={black, line width=0.6pt},
    axis on top,
    title style={at={(0.5,1)}, anchor=base, yshift=-3pt, inner sep=0pt,
      font=\fontsize{12}{14}\selectfont},
    yticklabel style={font=\fontsize{10}{12}\selectfont, inner sep=1pt,
      /pgf/number format/fixed, /pgf/number format/fixed zerofill,
      /pgf/number format/precision=1, /pgf/number format/assume math mode=true},
  },
  obs/.style={ybar, bar width=1.04, bar shift=0pt, fill=black, draw=none,
    legend image code/.code={\draw[##1, sharp corners] (0pt,-2.5pt) rectangle (14pt,2.5pt);}},
  dd/.style={ybar, bar width=0.8, bar shift=0pt, fill=dblue, draw=none,
    legend image code/.code={\draw[##1, sharp corners, draw=black!80, line width=0.4pt] (0pt,-2.5pt) rectangle (14pt,2.5pt);}},
}

\begin{document}
\begin{tikzpicture}
\useasboundingbox (-27pt,62.5pt) rectangle (571pt,-506.5pt);

\begin{axis}[panel, at={(0pt,0pt)}, ymin=0, ymax=1.022, ytick={0,0.5,1},
  title={Random Walk Controversy},
  legend columns=2, legend cell align=left,
  legend style={at={(0.996,0.90)}, anchor=north east, draw=black!20, rounded corners=1.5pt,
    font=\fontsize{7.3}{8}\selectfont, inner sep=1.5pt,
    /tikz/every even column/.append style={column sep=9pt}}]
\addplot[obs] table[x expr=\coordindex, y=y]{\oA};
\addlegendentry{observed}
\addplot[dd] table[x expr=\coordindex, y=y]{\dA};
\addlegendentry{d=1}
\end{axis}

\begin{axis}[panel, at={(0pt,-71pt)}, ymin=0, ymax=1.022, ytick={0,0.5,1},
  title={Adaptive Walk Controversy}]
\addplot[obs] table[x expr=\coordindex, y=y]{\oB};
\addplot[dd] table[x expr=\coordindex, y=y]{\dB};
\end{axis}

\begin{axis}[panel, at={(0pt,-142pt)}, ymin=0, ymax=1.022, ytick={0,0.5,1},
  title={Betweenness Controversy}]
\addplot[obs] table[x expr=\coordindex, y=y]{\oC};
\addplot[dd] table[x expr=\coordindex, y=y]{\dC};
\end{axis}

\begin{axis}[panel, at={(0pt,-213pt)}, ymin=-0.05, ymax=0.35, ytick={0,0.2},
  title={Boundary Polarization}]
\addplot[obs] table[x expr=\coordindex, y=y]{\oD};
\addplot[dd] table[x expr=\coordindex, y=y]{\dD};
\end{axis}

\begin{axis}[panel, at={(0pt,-284pt)}, ymin=0, ymax=1.022, ytick={0,0.5,1},
  title={Dipole Polarization}]
\addplot[obs] table[x expr=\coordindex, y=y]{\oE};
\addplot[dd] table[x expr=\coordindex, y=y]{\dE};
\end{axis}

\begin{axis}[panel, at={(0pt,-355pt)}, ymin=0, ymax=0.51, ytick={0,0.25,0.5},
  yticklabel style={/pgf/number format/precision=2},
  title={Modularity}]
\addplot[obs] table[x expr=\coordindex, y=y]{\oF};
\addplot[dd] table[x expr=\coordindex, y=y]{\dF};
\end{axis}

\begin{axis}[panel, at={(0pt,-426pt)}, ymin=0, ymax=1.022, ytick={0,0.5,1},
  title={neg.\ EI Index}]
\addplot[obs] table[x expr=\coordindex, y=y]{\oG};
\addplot[dd] table[x expr=\coordindex, y=y]{\dG};
\end{axis}

\begin{axis}[panel, at={(0pt,-497pt)}, ymin=0, ymax=1.022, ytick={0,0.5,1},
  title={neg.\ Adaptive EI Index}]
\addplot[obs] table[x expr=\coordindex, y=y]{\oH};
\addplot[dd] table[x expr=\coordindex, y=y]{\dH};
\end{axis}
\end{tikzpicture}
\end{document}
